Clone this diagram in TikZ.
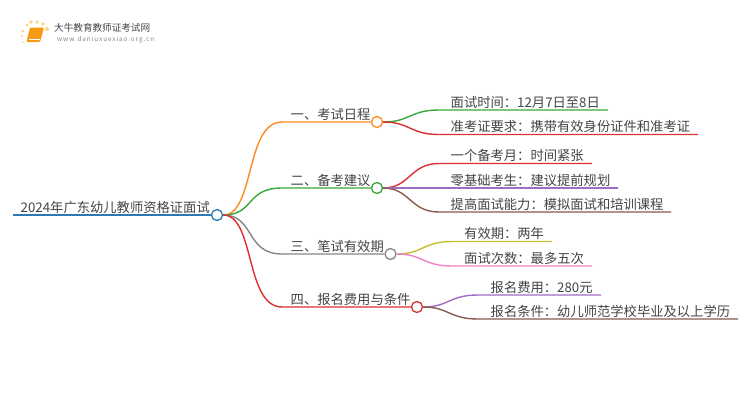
\documentclass[tikz,border=0pt]{standalone}
\usepackage{fontspec}
\setmainfont{Noto Sans CJK SC}
\newfontfamily\urlfont[LetterSpace=14]{Noto Sans CJK SC}
\newcommand{\cncolon}{\symbol{"FF1A}}
\definecolor{txtgray}{HTML}{444444}
\definecolor{rootblue}{HTML}{2A7AB8}
\definecolor{brorange}{HTML}{FF8A1E}
\definecolor{brgreen}{HTML}{37A838}
\definecolor{brgray}{HTML}{868686}
\definecolor{brred}{HTML}{DC2F2F}
\definecolor{brpurple}{HTML}{A06CC8}
\definecolor{brbrown}{HTML}{8C5A4C}
\definecolor{bryellow}{HTML}{C4C030}
\definecolor{brpink}{HTML}{EE82CC}
\definecolor{bookorange}{HTML}{F59A12}
\definecolor{dotyellow}{HTML}{FBD77E}
\tikzset{
	txt/.style={anchor=base west, inner sep=0pt, text=txtgray, font=\fontsize{13.3pt}{13.3pt}\selectfont},
	dot/.style={circle, draw=#1, fill=white, line width=1.3pt, minimum size=11pt, inner sep=0pt},
	conn/.style={line width=1.4pt, draw=#1},
	sun/.style={fill=dotyellow, draw=none}
}
\begin{document}
\begin{tikzpicture}[x=1pt, y=-1pt]
	\useasboundingbox (0,0) rectangle (750,410);
	\coordinate (R0) at (13,215);
	\coordinate (B1) at (282,122);
	\coordinate (B2) at (282,188);
	\coordinate (B3) at (282,254);
	\coordinate (B4) at (282,307);
	\coordinate (L11) at (439,110);
	\coordinate (L11e) at (608,110);
	\coordinate (L12) at (439,134.5);
	\coordinate (L12e) at (698,134.5);
	\coordinate (L21) at (439,163.5);
	\coordinate (L21e) at (592,163.5);
	\coordinate (L22) at (439,188);
	\coordinate (L22e) at (618,188);
	\coordinate (L23) at (439,212);
	\coordinate (L23e) at (671,212);
	\coordinate (L31) at (452,241.5);
	\coordinate (L31e) at (552,241.5);
	\coordinate (L32) at (452,266);
	\coordinate (L32e) at (592,266);
	\coordinate (L41) at (478,295);
	\coordinate (L41e) at (601,295);
	\coordinate (L42) at (478,319);
	\coordinate (L42e) at (738,319);
	
	% Circles
	\node[dot=rootblue] (root) at (217,215) {};
	\node[dot=brorange] (n1) at (377,122) {};
	\node[dot=brgreen] (n2) at (377,188) {};
	\node[dot=brgray] (n3) at (390.5,254) {};
	\node[dot=brred] (n4) at (417,307) {};
	
	% Root and branches
	\draw[conn=rootblue] (R0) -- (root.west);
	\draw[conn=brorange] (root.east) .. controls (255,215) and (245,122) .. (B1) -- (n1.west);
	\draw[conn=brgreen] (root.east) .. controls (255,215) and (245,188) .. (B2) -- (n2.west);
	\draw[conn=brgray] (root.east) .. controls (255,215) and (245,254) .. (B3) -- (n3.west);
	\draw[conn=brred] (root.east) .. controls (255,215) and (245,307) .. (B4) -- (n4.west);
	
	% Leaves
	\draw[conn=brgreen] (n1.east) .. controls (410,122) and (410,110) .. (L11) -- (L11e);
	\draw[conn=brred] (n1.east) .. controls (410,122) and (410,134.5) .. (L12) -- (L12e);
	\draw[conn=brred] (n2.east) .. controls (410,188) and (410,163.5) .. (L21) -- (L21e);
	\draw[conn=brpurple] (n2.east) -- (L22) -- (L22e);
	\draw[conn=brbrown] (n2.east) .. controls (410,188) and (410,212) .. (L23) -- (L23e);
	\draw[conn=bryellow] (n3.east) .. controls (423,254) and (423,241.5) .. (L31) -- (L31e);
	\draw[conn=brpink] (n3.east) .. controls (423,254) and (423,266) .. (L32) -- (L32e);
	\draw[conn=brpurple] (n4.east) .. controls (449,307) and (449,295) .. (L41) -- (L41e);
	\draw[conn=brbrown] (n4.east) .. controls (449,307) and (449,319) .. (L42) -- (L42e);
	
	% Texts
	\node[txt] (troot) at (20.5,212) {2024年广东幼儿教师资格证面试};
	\node[txt] (t1) at (290.5,119) {一、考试日程};
	\node[txt] (t2) at (290.5,185) {二、备考建议};
	\node[txt] (t3) at (290.5,251) {三、笔试有效期};
	\node[txt] (t4) at (290.5,304) {四、报名费用与条件};
	\node[txt] (t11) at (450.5,107) {面试时间\cncolon 12月7日至8日};
	\node[txt] (t12) at (450.5,131.5) {准考证要求\cncolon 携带有效身份证件和准考证};
	\node[txt] (t21) at (450.5,160.5) {一个备考月\cncolon 时间紧张};
	\node[txt] (t22) at (450.5,185) {零基础考生\cncolon 建议提前规划};
	\node[txt] (t23) at (450.5,209) {提高面试能力\cncolon 模拟面试和培训课程};
	\node[txt] (t31) at (464,238.5) {有效期\cncolon 两年};
	\node[txt] (t32) at (464,263) {面试次数\cncolon 最多五次};
	\node[txt] (t41) at (490.5,292) {报名费用\cncolon 280元};
	\node[txt] (t42) at (490.5,316) {报名条件\cncolon 幼儿师范学校毕业及以上学历};
	
	% Logo
	\fill[sun] (23,31) circle (1.5);
	\fill[sun] (27,25) circle (1.5);
	\fill[sun] (31,22) circle (1.8);
	\fill[sun] (37,22) circle (1.8);
	\fill[sun] (43,24) circle (1.8);
	\fill[sun] (47,29) circle (2);
	\fill[sun] (22,36) circle (1.2);
	\fill[sun] (23,42) circle (1);
	\fill[bookorange, rounded corners=1pt] (30,27.5) -- (44,27.5) -- (40,42) -- (26.5,42) -- cycle;
	\draw[white, line width=0.5pt] (28.5,39.5) -- (40,39.5);
	\node[anchor=base west, inner sep=0pt, text=txtgray, font=\fontsize{9.6pt}{9.6pt}\selectfont] (tlogo) at (54,31.5) {大牛教育教师证考试网};
	\node[anchor=base west, inner sep=0pt, text=brgray, font=\urlfont\fontsize{6.4pt}{6.4pt}\selectfont] (turl) at (57,41.5) {www.daniuxuexiao.org.cn};
\end{tikzpicture}
\end{document}
